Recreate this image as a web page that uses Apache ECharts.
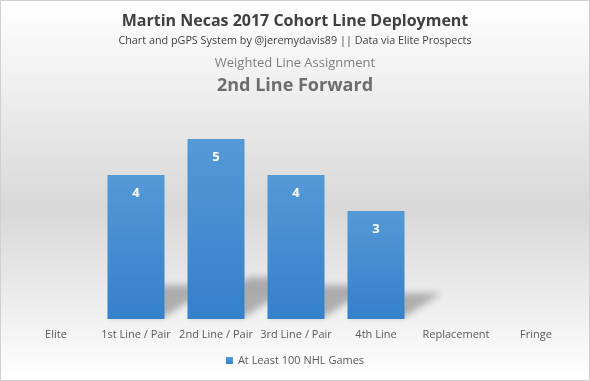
<!DOCTYPE html>
<html><head><meta charset="utf-8">
<script src="https://cdn.jsdelivr.net/npm/echarts@6/dist/echarts.min.js"></script>
<style>html,body{margin:0;padding:0;}#c{width:590px;height:381px;}</style>
</head><body><div id="c"></div>
<script>
const categories = ['Elite', '1st Line / Pair', '2nd Line / Pair', '3rd Line / Pair', '4th Line', 'Replacement', 'Fringe'];
const values = [0, 4, 5, 4, 3, 0, 0];
const seriesName = 'At Least 100 NHL Games';
const titleText = 'Martin Necas 2017 Cohort Line Deployment';
const subText = 'Chart and pGPS System by @jeremydavis89 || Data via Elite Prospects';
const assignLabel = 'Weighted Line Assignment';
const assignValue = '2nd Line Forward';

const chart = echarts.init(document.getElementById('c'));
const F = 'Open Sans';
const BW = 57;
const OFF = 2000;
chart.setOption({
  backgroundColor: {type:'linear', x:0, y:0, x2:0, y2:1, colorStops:[
    {offset:0, color:'#ffffff'}, {offset:0.55, color:'#d8d8d8'}, {offset:1, color:'#ffffff'}]},
  graphic: [
    {type:'rect', shape:{x:0.5,y:0.5,width:589,height:380}, style:{fill:'none', stroke:'#d0d0d0', lineWidth:1}, silent:true},
    {type:'text', left:'center', top:13, style:{text:titleText, font:'bold 16px "Open Sans"', fill:'#404040'}},
    {type:'text', left:'center', top:35, style:{text:subText, font:'10.8px "Open Sans"', fill:'#404040'}},
    {type:'text', left:'center', top:57, style:{text:assignLabel, font:'13px "Open Sans"', fill:'#7f7f7f'}},
    {type:'text', left:'center', top:77, style:{text:assignValue, font:'bold 18px "Open Sans"', fill:'#6d6d6d'}}
  ],
  legend: {bottom:10, left:'center', itemWidth:7, itemHeight:7, icon:'rect', itemGap:4,
    textStyle:{fontFamily:F, fontSize:11, color:'#595959'}, data:[seriesName]},
  grid: {left:16, right:14, top:103, bottom:62, containLabel:false},
  xAxis: {type:'category', data:categories, axisLine:{show:false}, axisTick:{show:false},
    axisLabel:{fontFamily:F, fontSize:11, color:'#595959', margin:10, interval:0}},
  yAxis: {type:'value', min:0, max:6, show:false, splitLine:{show:false}},
  series: [{
    name: 'shadow', type:'custom', z:1, silent:true,
    data: values.map((v, i) => [i, v]),
    renderItem: (params, api) => {
      const v = api.value(1);
      if (!v) return null;
      const base = api.coord([api.value(0), 0]);
      const top = api.coord([api.value(0), v]);
      const h = base[1] - top[1];
      const x0 = base[0] - BW / 2 - OFF, x1 = base[0] + BW / 2 - OFF;
      const b = base[1] - 2;
      const dy = h * 0.22, dx = h * 0.34;
      return {type:'polygon', shape:{points:[[x0, b], [x1, b], [x1 + dx, b - dy], [x0 + dx, b - dy]]},
        style:{fill:'#000', shadowBlur:7, shadowOffsetX:OFF, shadowColor:'rgba(0,0,0,0.27)'}};
    }
  }, {
    name: seriesName, type:'bar', data: values, barWidth:BW, z:2,
    itemStyle:{color:{type:'linear', x:0,y:0,x2:0,y2:1, colorStops:[{offset:0,color:'#5599d5'},{offset:1,color:'#3580cc'}]}},
    label:{show:true, position:'insideTop', distance:12, color:'#ffffff', fontFamily:F, fontWeight:'bold', fontSize:13,
      formatter: p => p.value > 0 ? p.value : ''}
  }]
});
</script></body></html>
